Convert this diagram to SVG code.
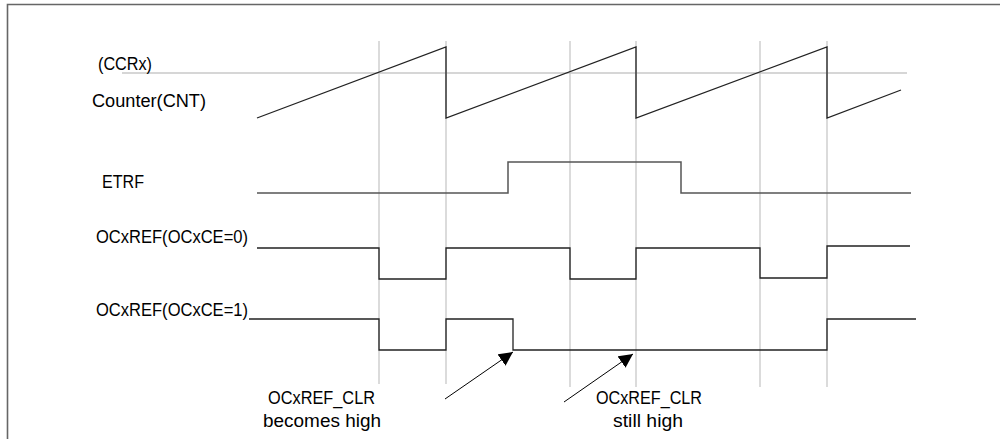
<svg xmlns="http://www.w3.org/2000/svg" width="1000" height="439" viewBox="0 0 1000 439">
<defs>
<style>
.lbl{font-family:"Liberation Sans",Arial,sans-serif;font-size:18px;fill:#000}
.grid{stroke:#c8c8c8;stroke-width:1.3;fill:none}
.wave{stroke:#222;stroke-width:1.3;fill:none}
.etrf{stroke:#555;stroke-width:1.5;fill:none}
.arr{stroke:#000;stroke-width:1;fill:none}
</style>
<marker id="ah" viewBox="0 0 10 10" refX="10" refY="5" markerWidth="14" markerHeight="14" markerUnits="userSpaceOnUse" orient="auto">
<path d="M0,0 L10,5 L0,10 z" fill="#000"/>
</marker>
</defs>
<rect width="1000" height="439" fill="#fff"/>
<path d="M7.5,440 V4.5 H1001" stroke="#666" stroke-width="1.6" fill="none"/>
<g id="gridlines">
<line class="grid" x1="379" y1="41" x2="379" y2="384"/>
<line class="grid" x1="446" y1="41" x2="446" y2="384"/>
<line class="grid" x1="570" y1="41" x2="570" y2="387"/>
<line class="grid" x1="636" y1="41" x2="636" y2="387"/>
<line class="grid" x1="760" y1="41" x2="760" y2="387"/>
<line class="grid" x1="827" y1="41" x2="827" y2="387"/>
<line class="grid" x1="122" y1="73" x2="907" y2="73"/>
</g>
<g id="ccrx"><text class="lbl" x="98" y="70" textLength="54" lengthAdjust="spacingAndGlyphs">(CCRx)</text></g>
<g id="counter">
<text class="lbl" x="92" y="107" textLength="114" lengthAdjust="spacingAndGlyphs">Counter(CNT)</text>
<polyline class="wave" points="257,118 446,47 446,118 636,47 636,118 827,47 827,118 901,90"/>
</g>
<g id="etrf">
<text class="lbl" x="102" y="188" textLength="42" lengthAdjust="spacingAndGlyphs">ETRF</text>
<polyline class="etrf" points="257,193 508,193 508,162 681,162 681,193 911,193"/>
</g>
<g id="ocxref0">
<text class="lbl" x="96" y="243" textLength="152" lengthAdjust="spacingAndGlyphs">OCxREF(OCxCE=0)</text>
<polyline class="wave" points="257,248 379,248 379,279 446,279 446,248 570,248 570,279 636,279 636,248 760,248 760,278 827,278 827,246 910,246"/>
</g>
<g id="ocxref1">
<text class="lbl" x="96" y="316" textLength="152" lengthAdjust="spacingAndGlyphs">OCxREF(OCxCE=1)</text>
<polyline class="wave" points="249,319 379,319 379,350 446,350 446,319 513,319 513,350 827,350 827,319 916,319"/>
</g>
<g id="clr1">
<text class="lbl" x="268" y="404" textLength="107" lengthAdjust="spacingAndGlyphs">OCxREF_CLR</text>
<text class="lbl" x="263" y="427" textLength="118" lengthAdjust="spacingAndGlyphs">becomes high</text>
</g>
<g id="clr2">
<text class="lbl" x="596" y="404" textLength="106" lengthAdjust="spacingAndGlyphs">OCxREF_CLR</text>
<text class="lbl" x="613" y="427" textLength="70" lengthAdjust="spacingAndGlyphs">still high</text>
</g>
<g id="connectors">
<line class="arr" x1="445" y1="399" x2="513" y2="352" marker-end="url(#ah)"/>
<line class="arr" x1="564" y1="402" x2="633" y2="354" marker-end="url(#ah)"/>
</g>
</svg>
